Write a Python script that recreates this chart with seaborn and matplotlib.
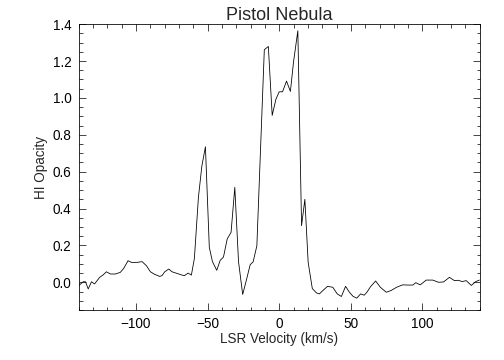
import numpy as np
import pandas as pd
import matplotlib
matplotlib.use('Agg')
import matplotlib.pyplot as plt
from matplotlib.ticker import MultipleLocator
import seaborn as sns

# LSR velocity (km/s) and HI opacity
velocity = [
    -139.9, -136.8, -135.2, -133.3, -131.0, -128.9, -125.3, -122.9, -120.6, -117.8,
    -114.3, -110.9, -108.5, -105.5, -103.1, -99.2, -95.7, -92.7, -89.9, -86.9,
    -83.4, -81.8, -79.9, -77.1, -74.8, -71.3, -67.8, -66.2, -63.6, -61.3,
    -59.2, -56.4, -54.0, -51.5, -48.8, -46.6, -43.6, -41.2, -38.9, -36.3,
    -33.6, -31.0, -28.4, -25.5, -23.0, -20.3, -18.2, -15.6, -10.4, -7.6,
    -4.9, -2.3, 0.0, 2.3, 5.1, 7.8, 10.0, 13.0, 15.6, 17.9,
    20.2, 23.1, 25.9, 28.0, 30.6, 33.7, 37.4, 40.5, 43.4, 46.3,
    49.0, 51.5, 54.1, 56.8, 59.3, 61.2, 63.7, 67.3, 70.6, 74.7,
    78.2, 81.9, 86.1, 90.4, 93.3, 95.3, 98.4, 102.6, 107.2, 111.2,
    114.7, 118.8, 122.3, 124.9, 127.7, 130.5, 134.1, 137.2, 139.7,
]
opacity = [
    -0.018, 0.003, 0.003, -0.036, 0.003, -0.009, 0.027, 0.040, 0.057, 0.045,
    0.045, 0.054, 0.076, 0.117, 0.108, 0.108, 0.112, 0.090, 0.057, 0.043,
    0.032, 0.036, 0.057, 0.072, 0.057, 0.048, 0.039, 0.036, 0.050, 0.039,
    0.130, 0.460, 0.630, 0.735, 0.190, 0.112, 0.065, 0.119, 0.137, 0.235,
    0.271, 0.515, 0.112, -0.066, 0.009, 0.095, 0.111, 0.198, 1.261, 1.279,
    0.905, 0.993, 1.033, 1.033, 1.091, 1.035, 1.196, 1.364, 0.307, 0.450,
    0.108, -0.034, -0.057, -0.063, -0.044, -0.022, -0.027, -0.063, -0.077, -0.022,
    -0.054, -0.076, -0.086, -0.063, -0.070, -0.054, -0.024, 0.007, -0.027, -0.054,
    -0.044, -0.027, -0.014, -0.015, -0.015, -0.002, -0.014, 0.012, 0.012, 0.000,
    0.002, 0.027, 0.009, 0.011, 0.004, 0.009, -0.017, 0.004, 0.012,
]

df = pd.DataFrame({'velocity': velocity, 'opacity': opacity})

sns.set_theme(style='white')
plt.rcParams['font.family'] = ['Liberation Sans', 'DejaVu Sans']

fig = plt.figure(figsize=(7, 5), dpi=72)
ax = fig.add_axes([0.156, 0.139, 0.796, 0.794])

sns.lineplot(data=df, x='velocity', y='opacity', ax=ax,
             color='black', linewidth=0.8, estimator=None)

ax.set_xlim(-140, 140)
ax.set_ylim(-0.15, 1.40)
ax.xaxis.set_major_locator(MultipleLocator(50))
ax.xaxis.set_minor_locator(MultipleLocator(10))
ax.yaxis.set_major_locator(MultipleLocator(0.2))
ax.yaxis.set_minor_locator(MultipleLocator(0.05))
ax.yaxis.set_major_formatter(matplotlib.ticker.FormatStrFormatter('%.1f'))

ax.tick_params(which='both', direction='in', bottom=True, left=True,
               top=True, right=True, colors='black', labelsize=13.5, width=0.7)
ax.tick_params(which='major', length=7, pad=7)
ax.tick_params(which='minor', length=3.5)
for side in ax.spines.values():
    side.set_color('black')
    side.set_linewidth(0.8)

ax.set_xlabel('LSR Velocity (km/s)', fontsize=13.5, labelpad=1)
ax.set_ylabel('HI Opacity', fontsize=13.5, labelpad=5)
ax.set_title('Pistol Nebula', fontsize=18, pad=3)

fig.savefig('out.png', dpi=72, facecolor='white')
plt.close(fig)
